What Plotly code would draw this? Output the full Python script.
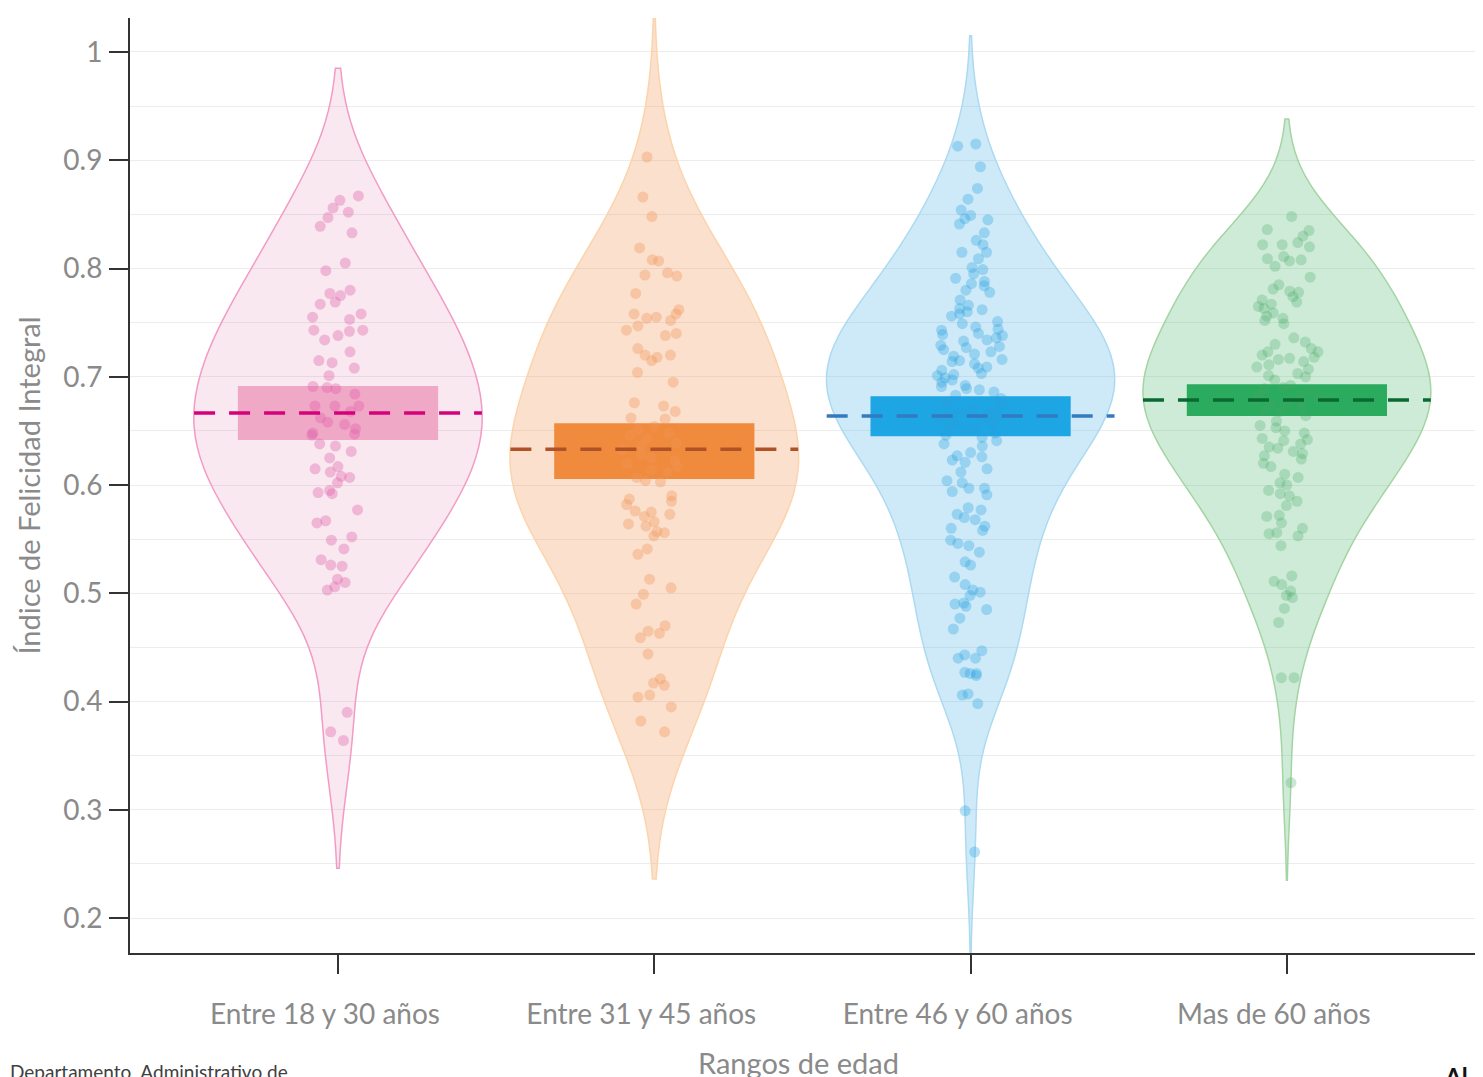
import plotly.graph_objects as go

categories = ["Entre 18 y 30 años", "Entre 31 y 45 años", "Entre 46 y 60 años", "Mas de 60 años"]
positions = [0, 1, 2, 3]

vals_18_30 = [0.867, 0.863, 0.856, 0.852, 0.847, 0.839, 0.833, 0.805, 0.798, 0.780, 0.777, 0.775,
              0.769, 0.767, 0.758, 0.755, 0.753, 0.743, 0.742, 0.743, 0.738, 0.734, 0.723, 0.715,
              0.713, 0.708, 0.701, 0.691, 0.690, 0.689, 0.684, 0.673, 0.673, 0.673, 0.668, 0.662,
              0.658, 0.656, 0.652, 0.648, 0.647, 0.646, 0.638, 0.636, 0.631, 0.625, 0.617, 0.615,
              0.612, 0.608, 0.607, 0.602, 0.595, 0.593, 0.592, 0.577, 0.567, 0.565, 0.552, 0.549,
              0.541, 0.531, 0.526, 0.525, 0.513, 0.510, 0.506, 0.503, 0.390, 0.372, 0.364]

vals_31_45 = [0.903, 0.866, 0.848, 0.819, 0.808, 0.807, 0.796, 0.793, 0.794, 0.777, 0.762, 0.758,
              0.758, 0.754, 0.752, 0.755, 0.747, 0.743, 0.740, 0.738, 0.726, 0.720, 0.718, 0.720,
              0.715, 0.704, 0.695, 0.676, 0.673, 0.668, 0.662, 0.661, 0.654, 0.651, 0.648, 0.646,
              0.643, 0.639, 0.636, 0.632, 0.628, 0.625, 0.623, 0.620, 0.617, 0.614, 0.612, 0.607,
              0.603, 0.604, 0.590, 0.587, 0.585, 0.582, 0.576, 0.575, 0.573, 0.571, 0.564, 0.566,
              0.562, 0.557, 0.556, 0.553, 0.541, 0.536, 0.513, 0.505, 0.499, 0.490, 0.470, 0.465,
              0.463, 0.459, 0.444, 0.421, 0.417, 0.415, 0.406, 0.404, 0.395, 0.382, 0.372]

vals_46_60 = [0.913, 0.915, 0.894, 0.874, 0.864, 0.854, 0.849, 0.845, 0.846, 0.841, 0.833, 0.826,
              0.822, 0.815, 0.815, 0.809, 0.801, 0.799, 0.795, 0.791, 0.788, 0.786, 0.784, 0.780,
              0.778, 0.771, 0.766, 0.763, 0.762, 0.760, 0.758, 0.756, 0.751, 0.749, 0.746, 0.743,
              0.740, 0.738, 0.736, 0.733, 0.729, 0.728, 0.725, 0.723, 0.719, 0.716, 0.715, 0.712,
              0.708, 0.706, 0.703, 0.701, 0.699, 0.695, 0.692, 0.691, 0.689, 0.686, 0.680, 0.677,
              0.674, 0.671, 0.670, 0.668, 0.665, 0.662, 0.660, 0.659, 0.656, 0.653, 0.650, 0.648,
              0.744, 0.739, 0.734, 0.727, 0.721, 0.714, 0.709, 0.702, 0.697, 0.688, 0.683, 0.676,
              0.667, 0.663, 0.657, 0.652, 0.646, 0.641,
              0.644, 0.638, 0.636, 0.630, 0.627, 0.626, 0.623, 0.621, 0.615, 0.612, 0.604, 0.602,
              0.597, 0.597, 0.594, 0.591, 0.579, 0.577, 0.573, 0.570, 0.568, 0.562, 0.560, 0.558,
              0.549, 0.546, 0.544, 0.538, 0.529, 0.526, 0.515, 0.508, 0.503, 0.501, 0.498, 0.491,
              0.490, 0.488, 0.485, 0.477, 0.467, 0.447, 0.443, 0.440, 0.440, 0.426, 0.427, 0.426,
              0.424, 0.407, 0.406, 0.398, 0.299, 0.261]

vals_60_plus = [0.848, 0.836, 0.835, 0.830, 0.824, 0.822, 0.822, 0.820, 0.811, 0.809, 0.808, 0.807,
                0.802, 0.792, 0.785, 0.781, 0.779, 0.778, 0.774, 0.771, 0.769, 0.767, 0.765, 0.763,
                0.759, 0.756, 0.754, 0.752, 0.749, 0.736, 0.732, 0.730, 0.726, 0.723, 0.723, 0.720,
                0.718, 0.717, 0.716, 0.714, 0.711, 0.709, 0.707, 0.703, 0.701, 0.700, 0.697, 0.692,
                0.690, 0.689, 0.686, 0.684, 0.683, 0.680, 0.678, 0.676, 0.675, 0.673, 0.671, 0.669,
                0.668, 0.664, 0.659, 0.655, 0.653, 0.650, 0.648, 0.643, 0.642, 0.641, 0.638, 0.635,
                0.634, 0.631, 0.629, 0.627, 0.624, 0.620, 0.617, 0.610, 0.607, 0.602, 0.600, 0.595,
                0.592, 0.590, 0.585, 0.581, 0.572, 0.571, 0.565, 0.560, 0.556, 0.555, 0.553, 0.544,
                0.516, 0.511, 0.508, 0.502, 0.498, 0.496, 0.486, 0.473, 0.422, 0.422, 0.325]

group_values = [vals_18_30, vals_31_45, vals_46_60, vals_60_plus]
means = [0.6665, 0.633, 0.6637, 0.6785]
ci_low = [0.6416, 0.6055, 0.645, 0.6637]
ci_high = [0.6915, 0.657, 0.682, 0.693]
bandwidths = [0.059, 0.068, 0.050, 0.045]

violin_fill = ["rgba(225,140,175,0.2)", "rgba(238,152,88,0.3)", "rgba(92,185,232,0.3)", "rgba(88,188,122,0.3)"]
violin_line = ["rgb(242,155,198)", "rgb(252,212,172)", "rgb(172,218,240)", "rgb(165,212,163)"]
point_color = ["rgba(225,95,168,0.36)", "rgba(240,150,90,0.36)", "rgba(40,160,225,0.33)", "rgba(70,170,100,0.28)"]
box_color = ["rgb(244,175,206)", "rgb(241,132,48)", "rgb(3,156,225)", "rgb(22,164,82)"]
mean_color = ["rgb(214,0,123)", "rgb(175,82,40)", "rgb(52,122,192)", "rgb(10,105,48)"]

FONT = "Lato"
GRAY = "#8a8a8a"

# page body has an 8px default margin; size the figure so the plot lands where the reference has it
FIG_W, FIG_H = 1475, 1069
ML, MR, MT, MB = 122, 0, 10, 124
PLOT_W = FIG_W - ML - MR
PLOT_H = FIG_H - MT - MB

fig = go.Figure()

# confidence-interval boxes
fig.add_trace(go.Bar(
    x=positions,
    y=[h - l for h, l in zip(ci_high, ci_low)],
    base=ci_low,
    width=0.633,
    marker=dict(color=box_color, line=dict(width=0)),
    showlegend=False,
    hoverinfo="skip",
))

for i, vals in enumerate(group_values):
    fig.add_trace(go.Violin(
        x=[positions[i]] * len(vals),
        y=vals,
        name=categories[i],
        width=0.91,
        bandwidth=bandwidths[i],
        spanmode="soft",
        scalemode="width",
        points="all",
        jitter=0.24,
        pointpos=0,
        fillcolor=violin_fill[i],
        line=dict(color=violin_line[i], width=1.5),
        marker=dict(color=point_color[i], size=11, line=dict(width=0)),
        box=dict(visible=False),
        meanline=dict(visible=False),
        showlegend=False,
    ))

for i, m in enumerate(means):
    fig.add_trace(go.Scatter(
        x=[positions[i] - 0.455, positions[i] + 0.455],
        y=[m, m],
        mode="lines",
        line=dict(color=mean_color[i], width=3.5, dash="21px,14px"),
        showlegend=False,
        hoverinfo="skip",
    ))

fig.update_layout(
    width=FIG_W,
    height=FIG_H,
    margin=dict(l=ML, r=MR, t=MT, b=MB),
    paper_bgcolor="white",
    plot_bgcolor="white",
    violinmode="overlay",
    barmode="overlay",
    font=dict(family=FONT, color=GRAY, size=28),
    xaxis=dict(
        range=[-0.6576, 3.620],
        tickvals=positions,
        ticktext=categories,
        showline=True,
        linecolor="#333333",
        linewidth=2,
        ticks="outside",
        ticklen=19,
        tickwidth=2,
        tickcolor="#333333",
        showgrid=False,
        zeroline=False,
        tickfont=dict(family=FONT, size=28, color=GRAY),
        ticklabelstandoff=16,
        ticklabelshift=-13,
    ),
    yaxis=dict(
        range=[0.1677, 1.0314],
        tickvals=[0.2, 0.3, 0.4, 0.5, 0.6, 0.7, 0.8, 0.9, 1.0],
        ticktext=["0.2", "0.3", "0.4", "0.5", "0.6", "0.7", "0.8", "0.9", "1"],
        showline=True,
        linecolor="#333333",
        linewidth=2,
        ticks="outside",
        ticklen=19,
        tickwidth=2,
        tickcolor="#333333",
        showgrid=True,
        gridcolor="#ececec",
        gridwidth=1,
        minor=dict(dtick=0.05, showgrid=True, gridcolor="#ececec", gridwidth=1, ticks=""),
        zeroline=False,
        tickfont=dict(family=FONT, size=28, color=GRAY),
        ticklabelstandoff=1,
        title=dict(text="Índice de Felicidad Integral", font=dict(family=FONT, size=29, color=GRAY), standoff=14),
    ),
)

# x-axis title (placed as in the reference, slightly left of the plot centre)
fig.add_annotation(
    text="Rangos de edad",
    xref="paper", yref="paper",
    x=(798 - 130) / PLOT_W, y=-(1062 - 953) / PLOT_H,
    xanchor="center", yanchor="middle",
    showarrow=False,
    font=dict(family=FONT, size=29, color=GRAY),
)
fig.add_annotation(
    text="Departamento  Administrativo de",
    xref="paper", yref="paper",
    x=-ML / PLOT_W, y=-(1058 - 953) / PLOT_H,
    xanchor="left", yanchor="top",
    showarrow=False,
    font=dict(family=FONT, size=19, color="#404040"),
)
fig.add_annotation(
    text="<b>Al</b>",
    xref="paper", yref="paper",
    x=(1442 - 130) / PLOT_W, y=-(1060 - 953) / PLOT_H,
    xanchor="left", yanchor="top",
    showarrow=False,
    font=dict(family=FONT, size=24, color="#111111"),
)

fig.write_html("out.html")
